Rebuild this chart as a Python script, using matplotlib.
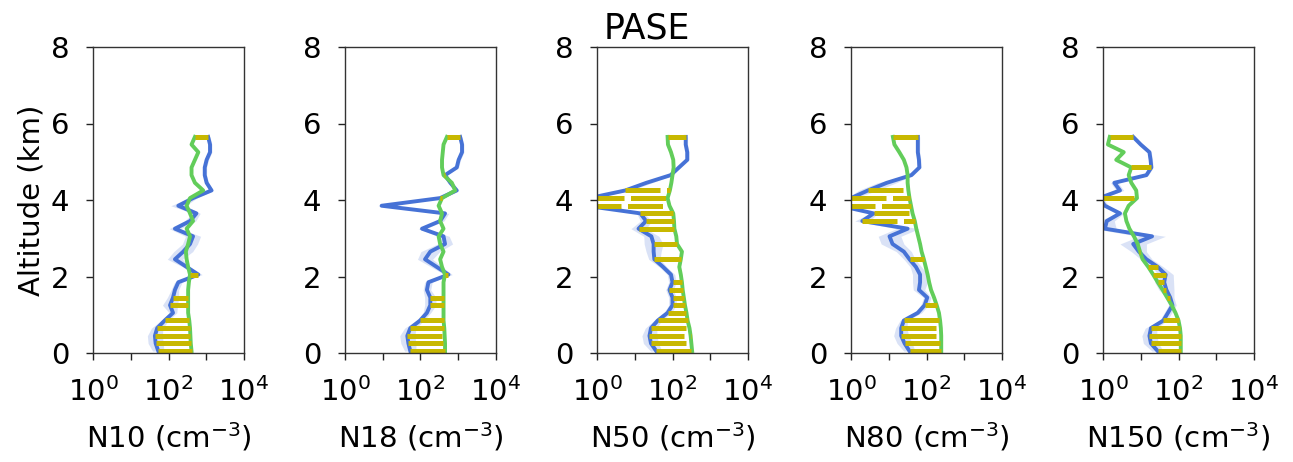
import numpy as np
import matplotlib
matplotlib.use("Agg")
import matplotlib.pyplot as plt

# altitude levels (km)
alt = [0.05, 0.25, 0.45, 0.65, 0.85, 1.05, 1.25, 1.45, 1.65, 1.85,
       2.05, 2.25, 2.45, 2.65, 2.85, 3.05, 3.25, 3.45, 3.65, 3.85,
       4.05, 4.25, 4.45, 4.65, 4.85, 5.05, 5.25, 5.45, 5.65]

names = ["N10", "N18", "N50", "N80", "N150"]

# log10 of number concentration (cm^-3)
n10_blue = [1.73, 1.66, 1.64, 1.70, 1.90, 2.12, 2.04, 2.12, 2.17, 2.26,
            2.79, 2.48, 2.17, 2.39, 2.57, 2.65, 2.17, 2.57, 2.74, 2.26,
            2.65, 3.14, 3.01, 2.96, 2.96, 3.01, 3.10, 3.10, 3.05]
n10_green = [2.61, 2.59, 2.58, 2.57, 2.55, 2.52, 2.52, 2.52, 2.52, 2.54,
             2.57, 2.52, 2.48, 2.46, 2.52, 2.57, 2.48, 2.65, 2.57, 2.48,
             2.57, 2.92, 2.70, 2.61, 2.61, 2.70, 2.79, 2.61, 2.70]
n10_spread = [0.15, 0.2, 0.2, 0.15, 0.1, 0.1, 0.2, 0.15, 0.1, 0.1,
              0.1, 0.1, 0.2, 0.25, 0.2, 0.2, 0.15, 0.15, 0.1, 0.2,
              0.1, 0.05, 0.05, 0.05, 0.05, 0.05, 0.05, 0.05, 0.05]
n10_sig = [0.05, 0.25, 0.45, 0.65, 0.85, 1.25, 1.45, 2.05, 5.65]

n18_blue = [1.73, 1.68, 1.65, 1.73, 1.99, 2.17, 2.26, 2.26, 2.17, 2.21,
            2.74, 2.43, 2.12, 2.26, 2.65, 2.61, 2.04, 2.52, 2.65, 0.97,
            2.52, 2.96, 2.79, 2.65, 2.96, 3.01, 3.10, 3.10, 3.05]
n18_green = [2.65, 2.65, 2.64, 2.63, 2.61, 2.61, 2.61, 2.61, 2.61, 2.61,
             2.65, 2.57, 2.52, 2.61, 2.52, 2.48, 2.61, 2.52, 2.57, 2.48,
             2.57, 2.92, 2.83, 2.61, 2.57, 2.57, 2.59, 2.61, 2.70]
n18_spread = [0.15, 0.2, 0.2, 0.15, 0.1, 0.1, 0.15, 0.15, 0.1, 0.1,
              0.1, 0.15, 0.2, 0.25, 0.2, 0.15, 0.1, 0.1, 0.1, 0.1,
              0.1, 0.05, 0.05, 0.05, 0.05, 0.05, 0.05, 0.05, 0.05]
n18_sig = [0.05, 0.25, 0.45, 0.65, 0.85, 1.25, 1.45, 2.05, 4.05, 4.65, 5.65]

n50_blue = [1.57, 1.43, 1.39, 1.43, 1.61, 1.87, 2.00, 2.00, 1.92, 2.00,
            1.96, 1.75, 1.52, 1.50, 1.50, 1.44, 1.10, 1.30, 1.15, -0.30,
            -0.20, 0.75, 1.31, 1.95, 2.17, 2.39, 2.39, 2.35, 2.35]
n50_green = [2.52, 2.50, 2.48, 2.45, 2.40, 2.37, 2.33, 2.30, 2.27, 2.25,
             2.22, 2.18, 2.22, 2.25, 2.12, 2.10, 2.05, 2.04, 2.02, 1.92,
             1.87, 1.93, 1.97, 2.00, 2.03, 2.02, 1.96, 1.88, 1.87]
n50_spread = [0.15, 0.2, 0.2, 0.15, 0.1, 0.1, 0.1, 0.1, 0.1, 0.1,
              0.1, 0.1, 0.15, 0.2, 0.25, 0.2, 0.2, 0.15, 0.1, 0.1,
              0.1, 0.15, 0.15, 0.05, 0.05, 0.05, 0.05, 0.05, 0.05]
n50_sig = [0.05, 0.25, 0.45, 0.65, 0.85, 1.05, 1.25, 1.45, 1.65, 1.85,
           2.45, 2.85, 3.25, 3.45, 3.65, 3.85, 4.05, 4.25, 5.65]

n80_blue = [1.55, 1.42, 1.33, 1.33, 1.40, 1.77, 1.95, 2.02, 1.80, 1.83,
            1.83, 1.72, 1.55, 1.40, 1.10, 1.02, 1.50, 0.30, 0.60, -0.30,
            0.00, 0.45, 0.95, 1.60, 1.81, 1.80, 1.77, 1.77, 1.77]
n80_green = [2.39, 2.39, 2.39, 2.38, 2.36, 2.33, 2.27, 2.20, 2.12, 2.07,
             2.03, 1.98, 1.93, 1.87, 1.83, 1.78, 1.73, 1.69, 1.63, 1.59,
             1.55, 1.52, 1.50, 1.50, 1.47, 1.40, 1.28, 1.15, 1.11]
n80_spread = [0.15, 0.2, 0.2, 0.15, 0.1, 0.1, 0.1, 0.1, 0.15, 0.2,
              0.2, 0.15, 0.15, 0.2, 0.3, 0.3, 0.3, 0.2, 0.1, 0.1,
              0.1, 0.25, 0.25, 0.05, 0.05, 0.05, 0.05, 0.05, 0.05]
n80_sig = [0.05, 0.25, 0.45, 0.65, 0.85, 1.25, 2.45, 3.45, 3.65, 3.85,
           4.05, 4.25, 5.65]

n150_blue = [1.45, 1.27, 1.23, 1.27, 1.60, 1.72, 1.84, 1.78, 1.68, 1.62,
             1.66, 1.45, 1.15, 0.95, 0.80, 1.30, 0.05, 0.10, 0.45, 0.05,
             -0.10, 0.45, 0.30, 1.15, 1.28, 1.26, 1.23, 1.00, 0.80]
n150_green = [2.06, 2.06, 2.06, 2.04, 2.00, 1.92, 1.82, 1.70, 1.58, 1.45,
              1.33, 1.20, 1.05, 0.98, 0.92, 0.82, 0.70, 0.62, 0.58, 0.68,
              0.90, 0.88, 0.75, 0.68, 0.75, 0.35, 0.55, 0.13, 0.18]
n150_spread = [0.15, 0.2, 0.2, 0.15, 0.1, 0.1, 0.1, 0.1, 0.2, 0.25,
               0.2, 0.15, 0.15, 0.2, 0.35, 0.35, 0.3, 0.2, 0.1, 0.1,
               0.1, 0.1, 0.1, 0.05, 0.05, 0.05, 0.05, 0.05, 0.05]
n150_sig = [0.05, 0.25, 0.45, 0.65, 0.85, 1.25, 1.45, 1.65, 1.85, 2.05,
            2.25, 2.65, 4.05, 4.85, 5.65]

blues = [n10_blue, n18_blue, n50_blue, n80_blue, n150_blue]
greens = [n10_green, n18_green, n50_green, n80_green, n150_green]
spreads = [n10_spread, n18_spread, n50_spread, n80_spread, n150_spread]
sigs = [n10_sig, n18_sig, n50_sig, n80_sig, n150_sig]

c_blue = "#4672d6"
c_green = "#62cd5a"
c_yellow = "#c8b800"

fig = plt.figure(figsize=(12.93, 4.62), dpi=100)
lefts = [93, 345, 597, 851, 1103]

alt_a = np.array(alt)
for i in range(5):
    ax = fig.add_axes([lefts[i] / 1293, 109 / 462, 151 / 1293, 306 / 462])
    b = np.array(blues[i])
    g = np.array(greens[i])
    s = np.array(spreads[i])

    ax.fill_betweenx(alt_a, 10 ** (b - s), 10 ** (b + s), color=c_blue, alpha=0.2, lw=0)
    ax.plot(10 ** b, alt_a, color=c_blue, lw=2.8)
    ax.plot(10 ** g, alt_a, color=c_green, lw=2.8)

    mask = np.isin(alt_a, sigs[i])
    ax.hlines(alt_a[mask], 10 ** b[mask], 10 ** g[mask], color=c_yellow, lw=3.6,
              linestyles=[(0, (7, 1.3))])

    ax.set_xscale("log")
    ax.set_xlim(1, 1e4)
    ax.set_ylim(0, 8)
    ax.set_xticks([1, 10, 100, 1000, 10000])
    ax.set_xticklabels(["$10^0$", "", "$10^2$", "", "$10^4$"])
    ax.xaxis.set_minor_locator(matplotlib.ticker.NullLocator())
    ax.set_yticks([0, 2, 4, 6, 8])
    ax.tick_params(labelsize=21, length=5, width=1, pad=12, color="#222222")
    for sp in ax.spines.values():
        sp.set_linewidth(1)
        sp.set_color("#333333")
    ax.set_xlabel(names[i] + " (cm$^{-3}$)", fontsize=21, labelpad=10)
    if i == 0:
        ax.set_ylabel("Altitude (km)", fontsize=21, labelpad=4)

fig.suptitle("PASE", fontsize=25, y=0.975, va="top")
fig.savefig("out.png", dpi=100)
